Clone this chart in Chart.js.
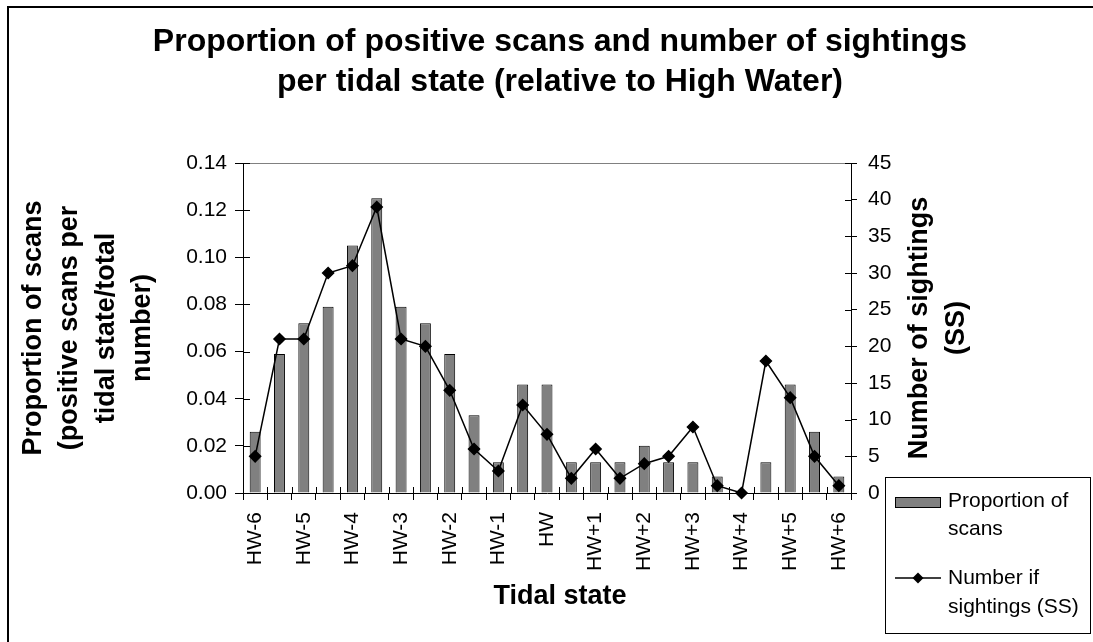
<!DOCTYPE html>
<html>
<head>
<meta charset="utf-8">
<script src="https://cdn.jsdelivr.net/npm/chart.js@4.4.0/dist/chart.umd.min.js"></script>
<style>
  html, body { margin: 0; padding: 0; background: #fff; overflow: hidden; }
  #wrap { width: 1093px; height: 642px; overflow: hidden; }
  canvas { display: block; }
</style>
</head>
<body>
<div id="wrap"><canvas id="chart" width="1120" height="642"></canvas></div>
<script>
// tidal states, half-hour steps; only the whole hours carry a label
const categories = ['HW-6', '', 'HW-5', '', 'HW-4', '', 'HW-3', '', 'HW-2', '', 'HW-1', '', 'HW',
  '', 'HW+1', '', 'HW+2', '', 'HW+3', '', 'HW+4', '', 'HW+5', '', 'HW+6'];

const proportion = [0.026, 0.059, 0.072, 0.079, 0.105, 0.125, 0.079, 0.072, 0.059, 0.033, 0.013, 0.046, 0.046,
  0.013, 0.013, 0.013, 0.020, 0.013, 0.013, 0.007, 0, 0.013, 0.046, 0.026, 0.007];

const sightings = [5, 21, 21, 30, 31, 39, 21, 20, 14, 6, 3, 12, 8, 2, 6, 2, 4, 5, 9, 1, 0, 18, 13, 5, 1];

const leftTicks = [0, 0.02, 0.04, 0.06, 0.08, 0.10, 0.12, 0.14];
const rightTicks = [0, 5, 10, 15, 20, 25, 30, 35, 40, 45];

const FONT = "'Liberation Sans', Arial, sans-serif";
Chart.defaults.font.family = FONT;
Chart.defaults.color = '#000';

// small bits Excel draws that Chart.js has no option for
const extras = {
  id: 'extras',
  beforeDatasetsDraw(chart) {
    const {ctx, chartArea: a} = chart;
    ctx.save();
    ctx.strokeStyle = '#808080';
    ctx.lineWidth = 1;
    ctx.beginPath();
    ctx.moveTo(a.left, a.top + 0.5);
    ctx.lineTo(a.right, a.top + 0.5);
    ctx.stroke();
    ctx.restore();
  },
  afterDraw(chart) {
    const {ctx, chartArea: a, scales} = chart;
    ctx.save();
    ctx.strokeStyle = '#000';
    ctx.lineWidth = 1;

    // inner half of the crossing tick marks
    ctx.beginPath();
    const n = categories.length;
    for (let i = 0; i <= n; i++) {
      const x = Math.round(a.left + i * (a.right - a.left) / n) + 0.5;
      ctx.moveTo(x, a.bottom);
      ctx.lineTo(x, a.bottom - 6);
    }
    scales.y.ticks.forEach((t, i) => {
      const y = Math.round(scales.y.getPixelForTick(i)) + 0.5;
      ctx.moveTo(a.left, y);
      ctx.lineTo(a.left + 7, y);
    });
    scales.y2.ticks.forEach((t, i) => {
      const y = Math.round(scales.y2.getPixelForTick(i)) + 0.5;
      ctx.moveTo(a.right, y);
      ctx.lineTo(a.right - 6, y);
    });
    ctx.stroke();

    // right axis title, reading upward
    ctx.fillStyle = '#000';
    ctx.font = 'bold 27px ' + FONT;
    ctx.textAlign = 'center';
    ctx.textBaseline = 'middle';
    const midY = (a.top + a.bottom) / 2;
    ['Number of sightings', '(SS)'].forEach((s, i) => {
      ctx.save();
      ctx.translate(a.right + 69 + i * 37, midY);
      ctx.rotate(-Math.PI / 2);
      ctx.fillText(s, 0, 0);
      ctx.restore();
    });

    // x axis title, centred on the whole chart like Excel
    ctx.fillText('Tidal state', chart.width / 2, 597);

    // legend
    const lx = 885, ly = 477;
    ctx.strokeRect(lx + 0.5, ly + 0.5, 205, 156);
    const bar = chart.data.datasets[1];
    const line = chart.data.datasets[0];
    ctx.fillStyle = bar.backgroundColor;
    ctx.fillRect(lx + 10, ly + 20, 46, 11);
    ctx.strokeRect(lx + 10.5, ly + 20.5, 45, 10);
    ctx.beginPath();
    ctx.lineWidth = line.borderWidth;
    ctx.moveTo(lx + 10, ly + 101);
    ctx.lineTo(lx + 56, ly + 101);
    ctx.stroke();
    ctx.fillStyle = '#000';
    ctx.beginPath();
    const r = line.pointRadius;
    ctx.moveTo(lx + 33, ly + 101 - r);
    ctx.lineTo(lx + 33 + r, ly + 101);
    ctx.lineTo(lx + 33, ly + 101 + r);
    ctx.lineTo(lx + 33 - r, ly + 101);
    ctx.closePath();
    ctx.fill();
    ctx.font = '21px ' + FONT;
    ctx.textAlign = 'left';
    ['Proportion of', 'scans'].forEach((s, i) => ctx.fillText(s, lx + 63, ly + 24 + i * 28));
    ['Number if', 'sightings (SS)'].forEach((s, i) => ctx.fillText(s, lx + 63, ly + 101 + i * 29));

    // chart frame (right and bottom edges fall outside the picture)
    ctx.lineWidth = 2;
    ctx.strokeRect(8, 7, 1200, 700);
    ctx.restore();
  }
};

new Chart(document.getElementById('chart'), {
  type: 'bar',
  data: {
    labels: categories,
    datasets: [{
      type: 'line',
      label: 'Number if sightings (SS)',
      data: sightings,
      yAxisID: 'y2',
      borderColor: '#000',
      borderWidth: 1.5,
      backgroundColor: '#000',
      pointStyle: 'rectRot',
      pointRadius: 5.5,
      pointBackgroundColor: '#000',
      pointBorderColor: '#000',
      tension: 0,
      clip: false,
      order: 0
    }, {
      type: 'bar',
      label: 'Proportion of scans',
      data: proportion,
      yAxisID: 'y',
      backgroundColor: '#808080',
      borderColor: '#000',
      borderWidth: 1,
      barPercentage: 0.45,
      categoryPercentage: 1,
      order: 1
    }]
  },
  options: {
    responsive: false,
    animation: false,
    layout: { padding: 0 },
    plugins: {
      legend: { display: false },
      tooltip: { enabled: false },
      title: {
        display: true,
        text: ['Proportion of positive scans and number of sightings', 'per tidal state (relative to High Water)'],
        color: '#000',
        font: { size: 32, weight: 'bold', lineHeight: 1.25 },
        padding: { top: 22, bottom: 61 }
      }
    },
    scales: {
      x: {
        offset: true,
        grid: { offset: true, drawOnChartArea: false, tickLength: 7, color: '#000' },
        border: { color: '#000', width: 1 },
        ticks: { autoSkip: false, minRotation: 90, maxRotation: 90, padding: 12, font: { size: 21 } },
        afterFit: s => { s.height = 149; }
      },
      y: {
        position: 'left',
        min: 0,
        max: 0.14,
        afterBuildTicks: s => { s.ticks = leftTicks.map(v => ({value: v})); },
        ticks: { padding: 8, font: { size: 21 }, callback: v => v.toFixed(2) },
        grid: { drawOnChartArea: false, tickLength: 8, color: '#000' },
        border: { color: '#000', width: 1 },
        title: {
          display: true,
          text: ['Proportion of scans', '(positive scans per', 'tidal state/total', 'number)'],
          font: { size: 27, weight: 'bold', lineHeight: 1.35 },
          padding: { top: 15, bottom: 0 }
        },
        afterFit: s => { s.width = 243; }
      },
      y2: {
        position: 'right',
        min: 0,
        max: 45,
        afterBuildTicks: s => { s.ticks = rightTicks.map(v => ({value: v})); },
        ticks: { padding: 11, font: { size: 21 } },
        grid: { drawOnChartArea: false, tickLength: 6, color: '#000' },
        border: { color: '#000', width: 1 },
        afterFit: s => { s.width = 269; }
      }
    }
  },
  plugins: [extras]
});
</script>
</body>
</html>
